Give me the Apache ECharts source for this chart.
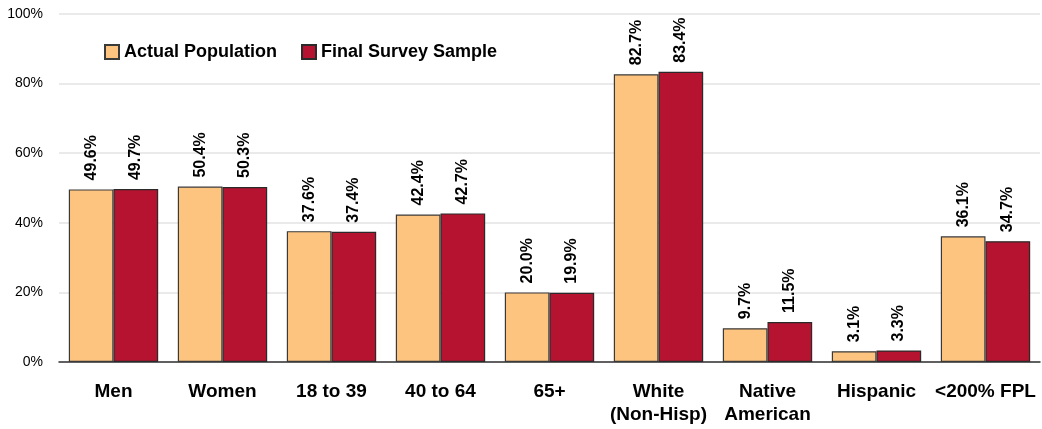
<!DOCTYPE html>
<html><head><meta charset="utf-8">
<script src="https://cdn.jsdelivr.net/npm/echarts@6/dist/echarts.min.js"></script>
<style>html,body{margin:0;padding:0;background:#fff}#c{width:1042px;height:429px}</style>
</head><body><div id="c"></div>
<script>
const categories = ['Men', 'Women', '18 to 39', '40 to 64', '65+', 'White\n(Non-Hisp)', 'Native\nAmerican', 'Hispanic', '<200% FPL'];
const actualPopulation = [49.6, 50.4, 37.6, 42.4, 20.0, 82.7, 9.7, 3.1, 36.1];
const finalSurveySample = [49.7, 50.3, 37.4, 42.7, 19.9, 83.4, 11.5, 3.3, 34.7];
const seriesNames = ['Actual Population', 'Final Survey Sample'];
const FONT = '"Liberation Sans Narrow", "Arial Narrow", "Liberation Sans", Arial, sans-serif';
const chart = echarts.init(document.getElementById('c'));
const lbl = {
  show: true, position: 'top', rotate: 90, align: 'left', verticalAlign: 'middle', distance: 9,
  formatter: p => p.value.toFixed(1) + '%', fontFamily: FONT, fontWeight: 'bold', fontSize: 16, color: '#000'
};
chart.setOption({
  animation: false,
  textStyle: { fontFamily: FONT },
  grid: { left: 59, right: 2, top: 14, bottom: 67 },
  legend: {
    left: 99, top: 38, itemWidth: 14, itemHeight: 14, itemGap: 24, icon: 'rect',
    textStyle: { fontFamily: FONT, fontWeight: 'bold', fontSize: 18, color: '#000' },
    data: seriesNames
  },
  xAxis: {
    type: 'category', data: categories,
    axisLine: { lineStyle: { color: '#333', width: 1.5 } },
    axisTick: { show: false },
    axisLabel: { fontFamily: FONT, fontWeight: 'bold', fontSize: 19, color: '#000', margin: 18, lineHeight: 23, interval: 0 }
  },
  yAxis: {
    type: 'value', min: 0, max: 100, interval: 20,
    axisLabel: { formatter: '{value}%', fontFamily: FONT, fontSize: 14, color: '#000', margin: 16 },
    splitLine: { lineStyle: { color: '#e3e3e3', width: 1.5 } },
    axisLine: { show: false }, axisTick: { show: false }
  },
  series: [
    { name: seriesNames[0], type: 'bar', data: actualPopulation, barGap: '0%', barCategoryGap: '18%',
      itemStyle: { color: '#FDC47F', borderColor: '#3a3a3a', borderWidth: 1.2 }, label: lbl },
    { name: seriesNames[1], type: 'bar', data: finalSurveySample,
      itemStyle: { color: '#B5132F', borderColor: '#2a2a2a', borderWidth: 1.2 }, label: lbl }
  ]
});
</script></body></html>
